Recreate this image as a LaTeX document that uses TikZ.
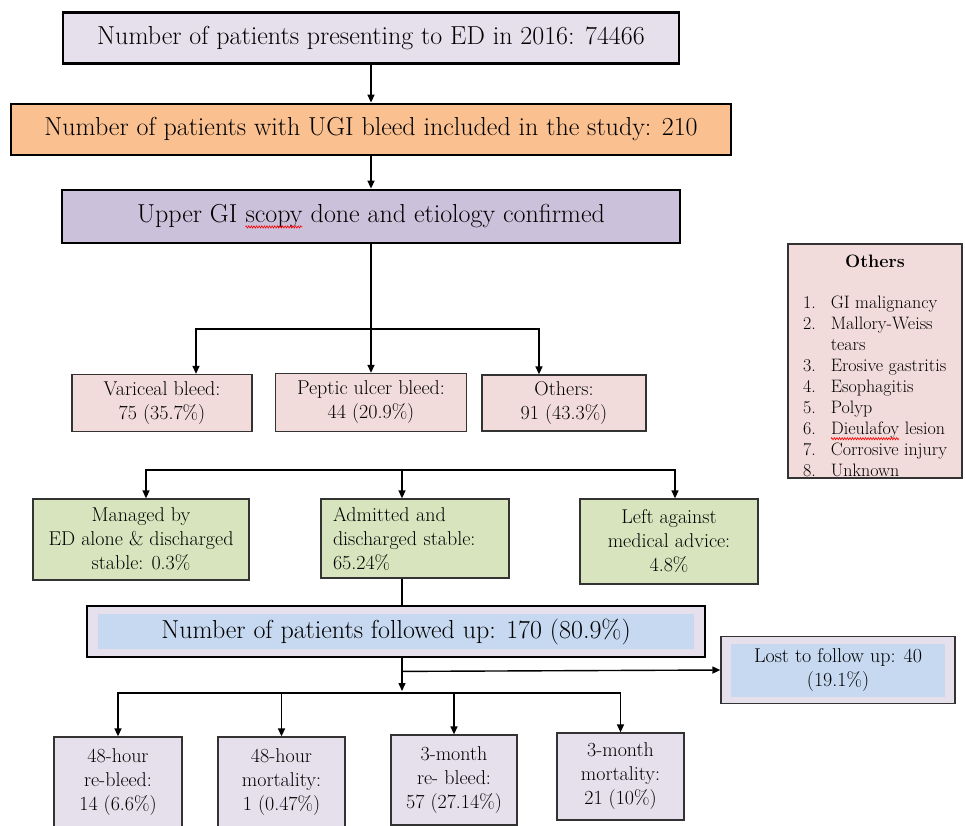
\documentclass[tikz,border=0pt]{standalone}
\usepackage{fontspec}
\usetikzlibrary{arrows.meta, decorations.pathmorphing}

\definecolor{lavfill}{HTML}{E6E0EC}
\definecolor{orangefill}{HTML}{FAC090}
\definecolor{purplefill}{HTML}{CCC1DA}
\definecolor{pinkfill}{HTML}{F2DCDB}
\definecolor{greenfill}{HTML}{D7E4BD}
\definecolor{bluefill}{HTML}{C6D9F1}

\newcommand\bigfont{\fontsize{26}{31}\selectfont}
\newcommand\medfont{\fontsize{20}{24}\selectfont}
\newcommand\listfont{\fontsize{18}{21}\selectfont}
% red spell-check wave under a word
\newcommand\redwave[1]{\tikz[baseline=(w.base)]{\node[inner sep=0pt, outer sep=0pt, draw=none, fill=none, minimum width=0pt, minimum height=0pt] (w) {#1};
	\draw[red, line width=0.6pt, decorate, decoration={zigzag, amplitude=1.1pt, segment length=2.6pt}] ([yshift=-4pt]w.base west) -- ([yshift=-4pt]w.base east);}}

\begin{document}
\begin{tikzpicture}[x=1pt, y=1pt, line width=1.4pt, >={Triangle[length=8pt,width=7pt]},
	big/.style = {draw, line width=2.8pt, minimum height=51pt, font=\bigfont, inner sep=0pt},
	pinkbox/.style = {draw=black!80, fill=pinkfill, line width=1.3pt, font=\medfont, align=center, inner sep=0pt},
	greenbox/.style = {draw=black!80, fill=greenfill, line width=1.3pt, font=\medfont, align=center, inner sep=0pt},
	lavbox/.style = {draw=black!80, fill=lavfill, line width=1.3pt, font=\medfont, align=center, inner sep=0pt},
	inset/.style 2 args = {path picture={
		\fill[lavfill] (path picture bounding box.south west) rectangle (path picture bounding box.north east);
		\fill[bluefill] ([shift={(#1,#2)}]path picture bounding box.south west) rectangle ([shift={(-#1,-#2)}]path picture bounding box.north east);}}]
	\useasboundingbox (0,0) rectangle (965,-825);
	\fill[white] (0,0) rectangle (965,-825);

	\node[big, fill=lavfill, minimum width=616pt] (1) at (371,-38) {Number of patients presenting to ED in 2016: 74466};
	\node[big, fill=orangefill, minimum width=720pt, node distance=91.5pt, below of=1] (2) {Number of patients with UGI bleed included in the study: 210};
	\node[big, fill=purplefill, minimum width=618pt, minimum height=53pt, node distance=87pt, below of=2] (3) {Upper GI \redwave{scopy} done and etiology confirmed};

	\node[pinkbox, minimum width=191pt, minimum height=58pt, node distance=186pt, below of=3] (5) {Peptic ulcer bleed:\\44 (20.9\%)};
	\node[pinkbox, minimum width=180pt, minimum height=57pt, node distance=209pt, left of=5, yshift=-0.5pt] (4) {Variceal bleed:\\75 (35.7\%)};
	\node[pinkbox, minimum width=164pt, minimum height=56pt, node distance=193pt, right of=5, yshift=-0.5pt] (6) {Others:\\91 (43.3\%)};

	\node[pinkbox, minimum width=174pt, minimum height=234pt, font=\listfont, node distance=504pt, right of=3, yshift=-144.5pt] (7) {%
		\raisebox{-7pt}[\height][\depth]{\begin{tabular}{@{}l@{\hspace{15pt}}l@{}}
			\multicolumn{2}{c}{\bfseries Others}\\[20pt]
			1. & GI malignancy\\
			2. & Mallory-Weiss\\
			   & tears\\
			3. & Erosive gastritis\\
			4. & Esophagitis\\
			5. & Polyp\\
			6. & \redwave{Dieulafoy} lesion\\
			7. & Corrosive injury\\
			8. & Unknown
		\end{tabular}}};

	\node[greenbox, minimum width=188pt, minimum height=79pt, text width=164pt, align=left, node distance=136pt, below of=5, xshift=44pt] (9) {Admitted and\\discharged stable:\\65.24\%};
	\node[greenbox, minimum width=216pt, minimum height=81pt, node distance=274pt, left of=9, yshift=-1pt] (8) {Managed by\\ED alone \& discharged\\stable: 0.3\%};
	\node[greenbox, minimum width=178pt, minimum height=85pt, node distance=254pt, right of=9, yshift=-3pt] (10) {Left against\\medical advice:\\4.8\%};

	\node[big, inset={11pt}{8pt}, minimum width=618pt, node distance=93pt, below of=9, xshift=-19pt] (11) {Number of patients followed up: 170 (80.9\%)};
	\node[lavbox, inset={10pt}{7pt}, minimum width=234pt, minimum height=67pt, node distance=442pt, right of=11, yshift=-38.5pt] (12) {Lost to follow up: 40\\(19.1\%)};

	\node[lavbox, minimum width=128pt, minimum height=90pt, node distance=150.5pt, below of=11, xshift=-278pt] (13) {48-hour\\re-bleed:\\14 (6.6\%)};
	\node[lavbox, minimum width=127pt, minimum height=90pt, node distance=163.5pt, right of=13] (14) {48-hour\\mortality:\\1 (0.47\%)};
	\node[lavbox, minimum width=126pt, minimum height=90pt, node distance=172.5pt, right of=14, yshift=2pt] (15) {3-month\\re- bleed:\\57 (27.14\%)};
	\node[lavbox, minimum width=127pt, minimum height=87pt, node distance=166.5pt, right of=15, yshift=3.5pt] (16) {3-month\\mortality:\\21 (10\%)};

	\coordinate (s1) at ([yshift=-112.5pt]3.center);
	\coordinate (s2) at ([xshift=-13pt, yshift=68.5pt]9.center);
	\coordinate (s3) at ([xshift=6pt, yshift=-61.5pt]11.center);

	\draw[->] (1) -- (2);
	\draw[->] (2) -- (3);
	\draw[->] (3) -- (5);
	\draw[->] (s1) -| ([xshift=34pt]4.north);
	\draw[->] (s1) -| ([xshift=-25pt]6.north);

	\draw[->] (s2) -- ([xshift=-13pt]9.north);
	\draw[->] (s2) -| ([xshift=5pt]8.north);
	\draw[->] (s2) -| ([xshift=6pt]10.north);
	\draw ([xshift=-13pt]9.south) -- ([xshift=-13pt]9.south |- 11.north);

	\draw[->] ([xshift=6pt]11.south) -- ([yshift=2pt]s3);
	\draw[->] ([xshift=6pt,yshift=-13pt]11.south) -- (12.west);
	\draw[->] (s3) -| (13.north);
	\draw[->] (s3) -| (14.north);
	\draw[->] (s3) -| (15.north);
	\draw[->] (s3) -| (16.north);
\end{tikzpicture}
\end{document}
